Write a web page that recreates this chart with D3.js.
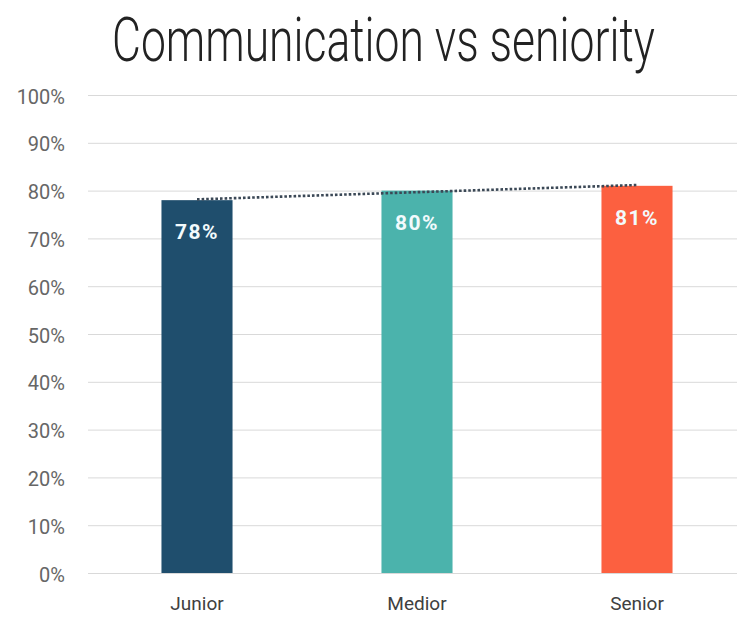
<!DOCTYPE html>
<html>
<head>
<meta charset="utf-8">
<script src="https://cdn.jsdelivr.net/npm/d3@7"></script>
<style>
  html, body { margin: 0; padding: 0; background: #fff; }
  svg { display: block; }
</style>
</head>
<body>
<div id="chart"></div>
<script>
// Share of communication score per seniority level
const categories = ["Junior", "Medior", "Senior"];
const values = [78, 80, 81];
const barColors = ["#1f4e6d", "#4bb3ac", "#fc6040"];
const yTicks = [0, 10, 20, 30, 40, 50, 60, 70, 80, 90, 100];
const title = "Communication vs seniority";

const W = 737, H = 621;
const plotLeft = 88, plotRight = 747, plotTop = 95, plotBottom = 573;

const svg = d3.select("#chart").append("svg")
  .attr("width", W).attr("height", H);

const x = d3.scaleBand()
  .domain(categories)
  .range([plotLeft - 1, plotRight])
  .paddingInner(0.677)
  .paddingOuter(0.3385);

const y = d3.scaleLinear().domain([0, 100]).range([plotBottom, plotTop]);

// title, set in a condensed form by squeezing it horizontally
const titleSize = 60;
const titleText = svg.append("text")
  .style("font-family", "Roboto, sans-serif")
  .style("font-weight", 300)
  .style("font-size", titleSize + "px")
  .style("fill", "#222")
  .text(title);
const natural = titleText.node().getComputedTextLength();
const squeeze = 543 / natural;
titleText.attr("transform", `translate(112,61) scale(${squeeze},1.03)`);

// horizontal gridlines + y labels
const yAxis = d3.axisLeft(y)
  .tickValues(yTicks)
  .tickSize(-(W - plotLeft))
  .tickPadding(23)
  .tickFormat(d => d + "%");

const gy = svg.append("g")
  .attr("transform", `translate(${plotLeft},0)`)
  .call(yAxis);
gy.select(".domain").remove();
gy.selectAll(".tick line")
  .attr("stroke", "#d9d9d9")
  .attr("stroke-width", 1);
gy.selectAll(".tick text")
  .style("font-family", "Roboto, sans-serif")
  .style("font-size", "20px")
  .style("fill", "#666")
  .attr("dy", "0.4em");

// bars
svg.append("g").selectAll("rect")
  .data(categories)
  .join("rect")
  .attr("x", d => x(d))
  .attr("width", x.bandwidth())
  .attr("y", (d, i) => y(values[i]))
  .attr("height", (d, i) => y(0) - y(values[i]))
  .attr("fill", (d, i) => barColors[i]);

// value labels inside bars
svg.append("g").selectAll("text")
  .data(categories)
  .join("text")
  .attr("x", d => x(d) + x.bandwidth() / 2)
  .attr("y", (d, i) => y(values[i]) + 39)
  .attr("text-anchor", "middle")
  .style("font-family", "Roboto, sans-serif")
  .style("font-weight", 700)
  .style("font-size", "21px")
  .style("letter-spacing", "1.5px")
  .style("fill", "#f2fafc")
  .text((d, i) => values[i] + "%");

// linear trend line through the bar values
const n = values.length;
const xs = d3.range(n);
const mx = d3.mean(xs), my = d3.mean(values);
const slope = d3.sum(xs, (k, i) => (k - mx) * (values[i] - my)) / d3.sum(xs, k => (k - mx) * (k - mx));
const icpt = my - slope * mx;
const trend = [0, n - 1].map(k => ({
  px: x(categories[k]) + x.bandwidth() / 2,
  v: icpt + slope * k
}));
svg.append("path")
  .datum(trend)
  .attr("d", d3.line().x(d => d.px).y(d => y(d.v)))
  .attr("fill", "none")
  .attr("stroke", "#3b4856")
  .attr("stroke-width", 2.6)
  .attr("stroke-dasharray", "2.6,2");

// category labels
const xAxis = d3.axisBottom(x).tickSize(0).tickPadding(24);
const gx = svg.append("g")
  .attr("transform", `translate(0,${plotBottom})`)
  .call(xAxis);
gx.select(".domain").remove();
gx.selectAll(".tick text")
  .style("font-family", "Roboto, sans-serif")
  .style("font-size", "19px")
  .style("fill", "#404040");
</script>
</body>
</html>
